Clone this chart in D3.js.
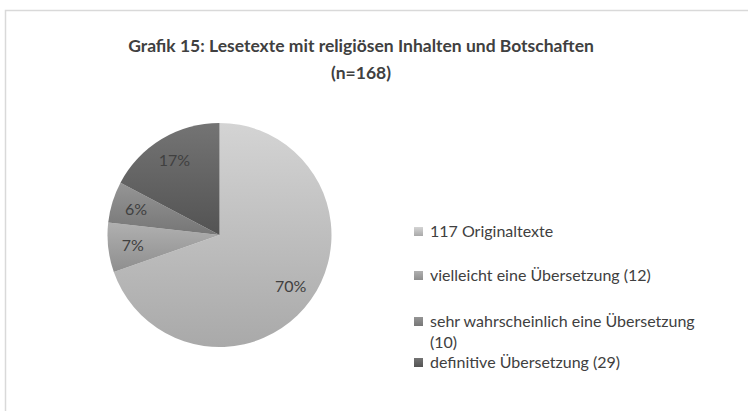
<!DOCTYPE html>
<html>
<head>
<meta charset="utf-8">
<script src="https://cdn.jsdelivr.net/npm/d3@7"></script>
<style>
  body { margin: 0; background: #fff; }
  text { font-family: Lato, "Liberation Sans", sans-serif; }
</style>
</head>
<body>
<div id="chart"></div>
<script>
var categories = ["117 Originaltexte", "vielleicht eine Übersetzung (12)", "sehr wahrscheinlich eine Übersetzung (10)", "definitive Übersetzung (29)"];
var legendLines = [["117 Originaltexte"], ["vielleicht eine Übersetzung (12)"], ["sehr wahrscheinlich eine Übersetzung", "(10)"], ["definitive Übersetzung (29)"]];
var counts = [117, 12, 10, 29];
var percentLabels = ["70%", "7%", "6%", "17%"];
var titleLines = ["Grafik 15: Lesetexte mit religiösen Inhalten und Botschaften", "(n=168)"];

var svgWidth = 748;
var svgHeight = 411;

// light top, darker bottom for each slice
var shades = [
  ["#d4d4d4", "#a9a9a9"],
  ["#b0b0b0", "#8e8e8e"],
  ["#959595", "#767676"],
  ["#747474", "#535353"]
];

var svg = d3.select("#chart")
  .append("svg")
  .attr("width", svgWidth)
  .attr("height", svgHeight);

var defs = svg.append("defs");
shades.forEach((s, i) => {
  var g = defs.append("linearGradient")
    .attr("id", "grad" + i)
    .attr("x1", 0).attr("y1", 0).attr("x2", 0).attr("y2", 1);
  g.append("stop").attr("offset", "0%").attr("stop-color", s[0]);
  g.append("stop").attr("offset", "100%").attr("stop-color", s[1]);
});

// frame (open at right and bottom like the crop)
svg.append("rect")
  .attr("x", 5.5)
  .attr("y", 10.5)
  .attr("width", 760)
  .attr("height", 420)
  .attr("fill", "#fff")
  .attr("stroke", "#d9d9d9")
  .attr("stroke-width", 1.5);

svg.selectAll(".title")
  .data(titleLines)
  .enter()
  .append("text")
  .attr("class", "title")
  .attr("x", 361)
  .attr("y", (d, i) => 52 + i * 27)
  .attr("text-anchor", "middle")
  .attr("font-size", "17.5px")
  .attr("font-weight", "bold")
  .attr("fill", "#404040")
  .text(d => d);

var cx = 219.5, cy = 235, radius = 112;

var pie = d3.pie().sort(null).value(d => d);
var arcs = pie(counts);
var arc = d3.arc().innerRadius(0).outerRadius(radius);
var labelArc = d3.arc().innerRadius(radius * 0.78).outerRadius(radius * 0.78);

var pieGroup = svg.append("g")
  .attr("transform", `translate(${cx}, ${cy})`);

pieGroup.selectAll(".slice")
  .data(arcs)
  .enter()
  .append("path")
  .attr("class", "slice")
  .attr("d", arc)
  .attr("fill", (d, i) => `url(#grad${i})`);

pieGroup.selectAll(".pct")
  .data(arcs)
  .enter()
  .append("text")
  .attr("class", "pct")
  .attr("x", d => labelArc.centroid(d)[0])
  .attr("y", d => labelArc.centroid(d)[1] + 6)
  .attr("text-anchor", "middle")
  .attr("font-size", "16px")
  .attr("fill", "#404040")
  .text((d, i) => percentLabels[i]);

var legendY = [231, 275, 321, 362];

var legend = svg.selectAll(".legend")
  .data(categories)
  .enter()
  .append("g")
  .attr("class", "legend")
  .attr("transform", (d, i) => `translate(414, ${legendY[i]})`);

legend.append("rect")
  .attr("x", 0)
  .attr("y", -4)
  .attr("width", 9)
  .attr("height", 9)
  .attr("fill", (d, i) => `url(#grad${i})`);

legend.append("text")
  .attr("x", 16)
  .attr("y", 6)
  .attr("font-size", "16px")
  .attr("fill", "#404040")
  .selectAll("tspan")
  .data((d, i) => legendLines[i])
  .enter()
  .append("tspan")
  .attr("x", 16)
  .attr("dy", (d, j) => j === 0 ? 0 : 21)
  .text(d => d);
</script>
</body>
</html>
